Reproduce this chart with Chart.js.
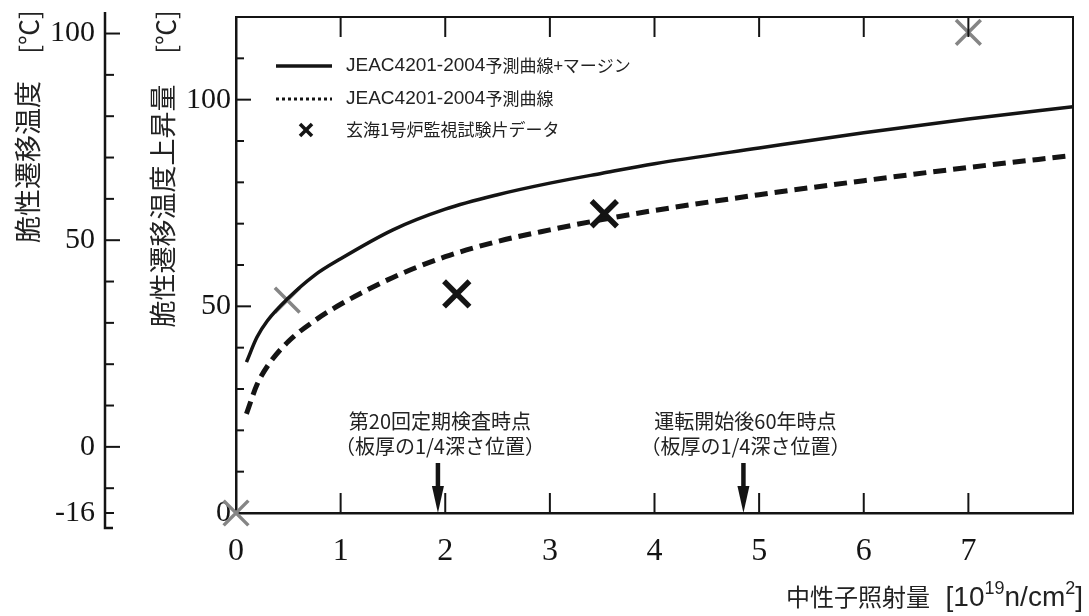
<!DOCTYPE html>
<html lang="ja">
<head>
<meta charset="utf-8">
<title>脆性遷移温度上昇量</title>
<script src="https://cdn.jsdelivr.net/npm/chart.js@4.4.1/dist/chart.umd.min.js"></script>
<style>
  html, body { margin: 0; padding: 0; background: #fff; }
  #wrap { width: 1089px; height: 616px; position: relative; }
</style>
</head>
<body>
<div id="wrap"><canvas id="chart"></canvas></div>
<script>
// 中性子照射量 [10^19 n/cm^2]
const FLUX = [0.1, 0.2, 0.3, 0.5, 0.75, 1, 1.5, 2, 2.5, 3, 3.5, 4, 5, 6, 7, 8];
// JEAC4201-2004予測曲線+マージン (上昇量 ℃)
const CURVE_MARGIN = [36.5, 42.5, 46.5, 52, 57.5, 61.5, 68.5, 73.5, 77, 79.8, 82.2, 84.5, 88.3, 92, 95.3, 98.3];
// JEAC4201-2004予測曲線
const CURVE_PRED = [24, 31, 35.5, 41.5, 46.5, 50.5, 57, 62, 65.7, 68.5, 71, 73.2, 77, 80.4, 83.6, 86.5];

// 玄海1号炉監視試験片データ
const GRAY_FLUX = [0, 0.49, 7.0];
const GRAY_SHIFT = [0, 51.5, 116.3];
const BLACK_FLUX = [2.11, 3.52];
const BLACK_SHIFT = [53, 72.4];

const Y_LABELS = [0, 50, 100];
const Y2_TICKS = [-16, -10, 0, 10, 20, 30, 40, 50, 60, 70, 80, 90, 100];
const Y2_LABELS = [-16, 0, 50, 100];

const LEGEND_CODE = "JEAC4201-2004";
const LEGEND_TEXT = [
    "予測曲線+マージン",
    "予測曲線",
    "玄海1号炉監視試験片データ",
];

const ARROW_FLUX = [1.93, 4.85];
const ARROW_TEXT = [
    ["第20回定期検査時点", "（板厚の1/4深さ位置）"],
    ["運転開始後60年時点", "（板厚の1/4深さ位置）"],
];

const INK = "#141414";
const GRAY = "#858585";
const SERIF = "'Liberation Serif', 'DejaVu Serif', serif";
const GOTHIC = "'Noto Sans CJK JP', 'Noto Sans', sans-serif";
const LATIN_GOTHIC = "'Liberation Sans', 'Noto Sans CJK JP', sans-serif";

function toPoints(xs, ys) {
    return xs.map((x, i) => ({ x: x, y: ys[i] }));
}

function line(ctx, x1, y1, x2, y2) {
    ctx.beginPath();
    ctx.moveTo(x1, y1);
    ctx.lineTo(x2, y2);
    ctx.stroke();
}

function rotatedText(ctx, text, cx, cy, font) {
    ctx.save();
    ctx.translate(cx, cy);
    ctx.rotate(-Math.PI / 2);
    ctx.font = font;
    ctx.textAlign = "center";
    ctx.textBaseline = "middle";
    ctx.fillText(text, 0, 0);
    ctx.restore();
}

// text runs (some raised), starting at leftX or ending at rightX
function drawRuns(ctx, runs, leftX, rightX, baseY) {
    const widths = runs.map((r) => {
        ctx.font = r.font;
        return ctx.measureText(r.t).width;
    });
    let x = leftX != null ? leftX : rightX - widths.reduce((a, b) => a + b, 0);
    runs.forEach((r, i) => {
        ctx.font = r.font;
        ctx.fillText(r.t, x, baseY - (r.rise || 0));
        x += widths[i];
    });
}

// no extra room for edge labels
function noPad(s) {
    s.paddingTop = 0;
    s.paddingBottom = 0;
    s.paddingLeft = 0;
    s.paddingRight = 0;
}

const decor = {
    id: "decor",
    afterDraw(chart) {
        const { ctx, chartArea: a } = chart;
        const { x, y, y2 } = chart.scales;
        ctx.save();
        ctx.strokeStyle = INK;
        ctx.fillStyle = INK;

        // top and right frame
        ctx.lineWidth = 2;
        ctx.beginPath();
        ctx.moveTo(a.left, a.top);
        ctx.lineTo(a.right, a.top);
        ctx.lineTo(a.right, a.bottom);
        ctx.stroke();

        // inward x ticks, bottom and top
        x.ticks.forEach((t) => {
            if (t.value <= x.min || t.value >= x.max) return;
            const px = x.getPixelForValue(t.value);
            line(ctx, px, a.bottom, px, a.bottom - 20);
            line(ctx, px, a.top, px, a.top + 20);
        });

        // inward y ticks
        y.ticks.forEach((t) => {
            if (t.value <= y.min || t.value >= y.max) return;
            const py = y.getPixelForValue(t.value);
            const len = t.value % 50 === 0 ? 15 : 8;
            line(ctx, a.left, py, a.left + len, py);
        });

        // secondary temperature axis
        const ax = y2.right;
        ctx.lineWidth = 2.5;
        ctx.beginPath();
        ctx.moveTo(ax, 12);
        ctx.lineTo(ax, 528);
        ctx.lineTo(ax + 8, 528);
        ctx.stroke();
        ctx.lineWidth = 2;
        Y2_TICKS.forEach((v) => {
            const py = y2.getPixelForValue(v);
            const len = v % 50 === 0 ? 15 : 9;
            line(ctx, ax, py, ax + len, py);
        });

        // axis titles
        ctx.fillStyle = "#222";
        rotatedText(ctx, "[℃]", 29, 32, `26px ${GOTHIC}`);
        rotatedText(ctx, "脆性遷移温度", 28, 162, `27px ${GOTHIC}`);
        rotatedText(ctx, "[℃]", 166, 32, `26px ${GOTHIC}`);
        rotatedText(ctx, "脆性遷移温度上昇量", 163, 206, `27px ${GOTHIC}`);

        ctx.textAlign = "left";
        ctx.textBaseline = "alphabetic";
        const latin = `28px ${LATIN_GOTHIC}`;
        const sup = `18px ${LATIN_GOTHIC}`;
        drawRuns(ctx, [
            { t: "中性子照射量", font: `24px ${GOTHIC}` },
            { t: "  [10", font: latin },
            { t: "19", font: sup, rise: 12 },
            { t: "n/cm", font: latin },
            { t: "2", font: sup, rise: 12 },
            { t: "]", font: latin },
        ], null, 1083, 606);

        // legend
        ctx.strokeStyle = INK;
        ctx.lineWidth = 3.5;
        line(ctx, 276, 66, 332, 66);
        ctx.setLineDash([3, 3]);
        ctx.lineWidth = 3;
        line(ctx, 276, 99, 332, 99);
        ctx.setLineDash([]);
        ctx.lineWidth = 3.5;
        line(ctx, 300, 124, 312, 136);
        line(ctx, 312, 124, 300, 136);
        ctx.textBaseline = "middle";
        ctx.fillStyle = "#222";
        const code = `19px ${LATIN_GOTHIC}`;
        const jp = `17px ${GOTHIC}`;
        drawRuns(ctx, [{ t: LEGEND_CODE, font: code }, { t: LEGEND_TEXT[0], font: jp }], 346, null, 66);
        drawRuns(ctx, [{ t: LEGEND_CODE, font: code }, { t: LEGEND_TEXT[1], font: jp }], 346, null, 99);
        drawRuns(ctx, [{ t: LEGEND_TEXT[2], font: jp }], 346, null, 130);

        // arrows and notes
        ctx.textAlign = "center";
        ctx.font = `20px ${GOTHIC}`;
        ARROW_FLUX.forEach((f, i) => {
            const px = x.getPixelForValue(f);
            ctx.fillStyle = "#222";
            ctx.fillText(ARROW_TEXT[i][0], px + 2, 421);
            ctx.fillText(ARROW_TEXT[i][1], px + 2, 446);
            ctx.fillStyle = INK;
            ctx.lineWidth = 4.5;
            line(ctx, px, 463, px, 492);
            ctx.beginPath();
            ctx.moveTo(px - 6, 486);
            ctx.lineTo(px + 6, 486);
            ctx.lineTo(px, 513);
            ctx.closePath();
            ctx.fill();
        });
        ctx.restore();
    },
};

new Chart(document.getElementById("chart"), {
    type: "line",
    data: {
        datasets: [
            {
                label: LEGEND_CODE + LEGEND_TEXT[0],
                data: toPoints(FLUX, CURVE_MARGIN),
                borderColor: INK,
                borderWidth: 3.5,
                pointRadius: 0,
                cubicInterpolationMode: "monotone",
            },
            {
                label: LEGEND_CODE + LEGEND_TEXT[1],
                data: toPoints(FLUX, CURVE_PRED),
                borderColor: INK,
                borderWidth: 5,
                borderDash: [13, 7],
                borderCapStyle: "butt",
                pointRadius: 0,
                cubicInterpolationMode: "monotone",
            },
            {
                type: "scatter",
                label: LEGEND_TEXT[2],
                data: toPoints(GRAY_FLUX, GRAY_SHIFT),
                pointStyle: "crossRot",
                pointRadius: 17.5,
                borderWidth: 3.5,
                borderColor: GRAY,
                clip: false,
            },
            {
                type: "scatter",
                label: LEGEND_TEXT[2],
                data: toPoints(BLACK_FLUX, BLACK_SHIFT),
                pointStyle: "crossRot",
                pointRadius: 18,
                borderWidth: 5.5,
                borderColor: INK,
                clip: false,
            },
        ],
    },
    options: {
        responsive: true,
        maintainAspectRatio: false,
        animation: false,
        events: [],
        layout: { autoPadding: false, padding: { left: 0, right: 16, top: 17, bottom: 0 } },
        plugins: {
            legend: { display: false },
            tooltip: { enabled: false },
        },
        scales: {
            x: {
                type: "linear",
                min: 0,
                max: 8,
                afterFit: (s) => { s.height = 103; noPad(s); },
                grid: { display: false, drawTicks: false },
                border: { display: true, color: INK, width: 2.5 },
                ticks: {
                    stepSize: 1,
                    autoSkip: false,
                    maxRotation: 0,
                    padding: 19,
                    color: INK,
                    font: { family: SERIF, size: 32 },
                    callback: (v) => (v < 8 ? v : ""),
                },
            },
            y: {
                type: "linear",
                position: "left",
                min: 0,
                max: 120,
                weight: 0,
                afterFit: (s) => { s.width = 131; noPad(s); },
                grid: { display: false, drawTicks: false },
                border: { display: true, color: INK, width: 2.5 },
                ticks: {
                    stepSize: 10,
                    autoSkip: false,
                    padding: 5,
                    color: INK,
                    font: { family: SERIF, size: 30 },
                    callback: (v) => (Y_LABELS.includes(v) ? v : ""),
                },
            },
            y2: {
                type: "linear",
                position: "left",
                min: -16,
                max: 104,
                weight: 1,
                afterFit: (s) => { s.width = 105; noPad(s); },
                afterBuildTicks: (s) => { s.ticks = Y2_TICKS.map((v) => ({ value: v })); },
                grid: { display: false, drawTicks: false },
                border: { display: false },
                ticks: {
                    autoSkip: false,
                    padding: 10,
                    color: INK,
                    font: { family: SERIF, size: 30 },
                    callback: (v) => (Y2_LABELS.includes(v) ? v : ""),
                },
            },
        },
    },
    plugins: [decor],
});
</script>
</body>
</html>
